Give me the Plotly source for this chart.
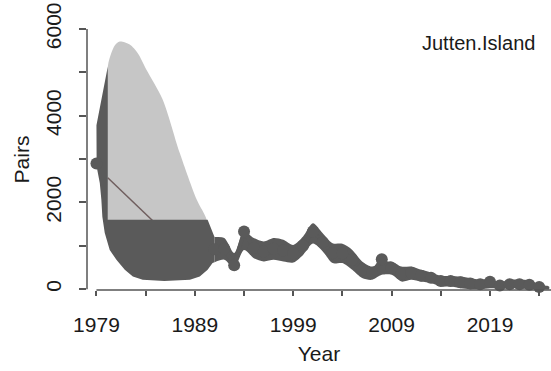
import plotly.graph_objects as go

# ---- data ----
years = [1979, 1991, 1992, 1993, 1994, 1995, 1996, 1997, 1998, 1999, 2000,
         2001, 2002, 2003, 2004, 2005, 2006, 2007, 2008, 2009, 2010, 2011,
         2012, 2013, 2014, 2015, 2016, 2017, 2018, 2019, 2020, 2021, 2022,
         2023, 2024]
pairs = [2900, 920, 930, 550, 1330, 950, 870, 930, 890, 820, 1000,
         1330, 1080, 830, 820, 680, 450, 370, 690, 490, 350, 380,
         310, 260, 185, 185, 160, 130, 110, 170, 85, 110, 110,
         100, 50]

# ribbon around the series (1991 onwards)
rib_years = [1991, 1992, 1993, 1994, 1995, 1996, 1997, 1998, 1999, 2000,
             2001, 2002, 2003, 2004, 2005, 2006, 2007, 2008, 2009, 2010,
             2011, 2012, 2013, 2014, 2015, 2016, 2017, 2018, 2019, 2020,
             2021, 2022, 2023, 2024, 2025]
rib_hi = [1200, 1180, 835, 1330, 1180, 1100, 1180, 1140, 1020, 1215,
          1520, 1290, 1060, 1045, 905, 640, 520, 600, 640, 520,
          520, 445, 385, 305, 305, 290, 255, 215, 230, 150,
          215, 215, 200, 100, 60]
rib_lo = [620, 680, 490, 905, 715, 640, 675, 640, 615, 790,
          1050, 870, 600, 600, 445, 255, 215, 330, 330, 175,
          215, 175, 140, 60, 60, 20, 0, 0, 20, 20,
          20, 20, 0, 0, 0]

# early-period uncertainty (light upper part)
light_top_x = [1980.15, 1980.52, 1980.86, 1981.37, 1982.38, 1983.2, 1984.08,
               1985.74, 1987.47, 1989.2, 1990.2]
light_top_y = [5130, 5450, 5620, 5710, 5640, 5440, 5060, 4370, 3140, 2060, 1600]
light_floor = 1300

# early-period dark part
dark_top_x = [1979.0, 1980.15, 1980.15, 1990.3, 1991.0]
dark_top_y = [3780, 5130, 1600, 1600, 1200]
dark_bot_x = [1979.0, 1979.02, 1979.34, 1979.5, 1979.6, 1979.84, 1980.35, 1981.03,
              1981.88, 1982.7, 1983.7, 1985.9, 1988.5, 1989.5, 1990.3, 1990.8, 1991.0]
dark_bot_y = [3780, 2830, 2450, 2060, 1670, 1300, 905, 675,
              445, 290, 215, 190, 215, 290, 445, 600, 620]

# thin trend line visible in the light area
trend_x = [1980.15, 1984.8]
trend_y = [2570, 1560]

x_tickvals = [1979, 1984, 1989, 1994, 1999, 2004, 2009, 2014, 2019, 2024]
x_ticktext = ["1979", "", "1989", "", "1999", "", "2009", "", "2019", ""]
y_tickvals = [0, 1000, 2000, 3000, 4000, 5000, 6000]
y_ticktext = ["0", "", "2000", "", "4000", "", "6000"]

LIGHT = "#c6c6c6"
DARK = "#5a5a5a"
AXIS = "#555555"
FONT = "Liberation Sans, Arial, sans-serif"

fig = go.Figure()

# light region (top curve + flat floor hidden under the dark part)
fig.add_trace(go.Scatter(
    x=[light_top_x[0]] + light_top_x + [light_top_x[-1]],
    y=[light_floor] + light_top_y + [light_floor],
    fill="toself", fillcolor=LIGHT,
    line=dict(width=0, shape="spline", smoothing=0.8), mode="lines",
    hoverinfo="skip", showlegend=False))

# trend line
fig.add_trace(go.Scatter(x=trend_x, y=trend_y, mode="lines",
                         line=dict(color="#705f5f", width=1.5),
                         hoverinfo="skip", showlegend=False))

# dark early region
fig.add_trace(go.Scatter(
    x=dark_top_x + dark_bot_x[::-1],
    y=dark_top_y + dark_bot_y[::-1],
    fill="toself", fillcolor=DARK, line=dict(width=0), mode="lines",
    hoverinfo="skip", showlegend=False))

# ribbon
fig.add_trace(go.Scatter(
    x=rib_years + rib_years[::-1],
    y=rib_hi + rib_lo[::-1],
    fill="toself", fillcolor=DARK,
    line=dict(width=0, shape="spline", smoothing=0.8), mode="lines",
    hoverinfo="skip", showlegend=False))

# series
fig.add_trace(go.Scatter(
    x=years[1:], y=pairs[1:], mode="lines+markers",
    line=dict(color=DARK, width=4),
    marker=dict(color=DARK, size=12),
    cliponaxis=False, showlegend=False))
fig.add_trace(go.Scatter(
    x=years[:1], y=pairs[:1], mode="markers",
    marker=dict(color=DARK, size=12),
    cliponaxis=False, showlegend=False))

# axis lines (R style, detached)
fig.add_shape(type="line", xref="paper", yref="y", x0=0, x1=0, y0=0, y1=6000,
              line=dict(color=AXIS, width=1.5))
fig.add_shape(type="line", xref="x", yref="paper", x0=1979, x1=2025.2, y0=0, y1=0,
              line=dict(color=AXIS, width=1.5))

fig.add_annotation(text="Jutten.Island", xref="paper", yref="paper",
                   x=0.97, y=0.946, xanchor="right", yanchor="middle",
                   showarrow=False, font=dict(family=FONT, size=20, color="#1a1a1a"))

fig.update_layout(
    width=551, height=371,
    margin=dict(l=87, r=0, t=29, b=81, autoexpand=False),
    paper_bgcolor="white", plot_bgcolor="white",
    font=dict(family=FONT, size=21, color="#1a1a1a"),
    xaxis=dict(range=[1978.04, 2025.2], tickvals=x_tickvals, ticktext=x_ticktext,
               ticks="outside", ticklen=5, tickcolor=AXIS, tickwidth=1.5,
               showline=False, showgrid=False, zeroline=False, automargin=False,
               tickfont=dict(size=21), ticklabelstandoff=11,
               title=dict(text="Year", font=dict(size=21), standoff=11)),
    yaxis=dict(range=[-20, 6000], tickvals=y_tickvals, ticktext=y_ticktext,
               ticks="outside", ticklen=7, tickcolor=AXIS, tickwidth=1.5,
               tickangle=-90, showline=False, showgrid=False, zeroline=False,
               automargin=False,
               tickfont=dict(size=21), ticklabelstandoff=10,
               title=dict(text="Pairs", font=dict(size=21), standoff=6)),
)

fig.write_html("out.html", config={"displayModeBar": False},
               post_script="document.body.style.margin='0';document.body.style.overflow='hidden';")
